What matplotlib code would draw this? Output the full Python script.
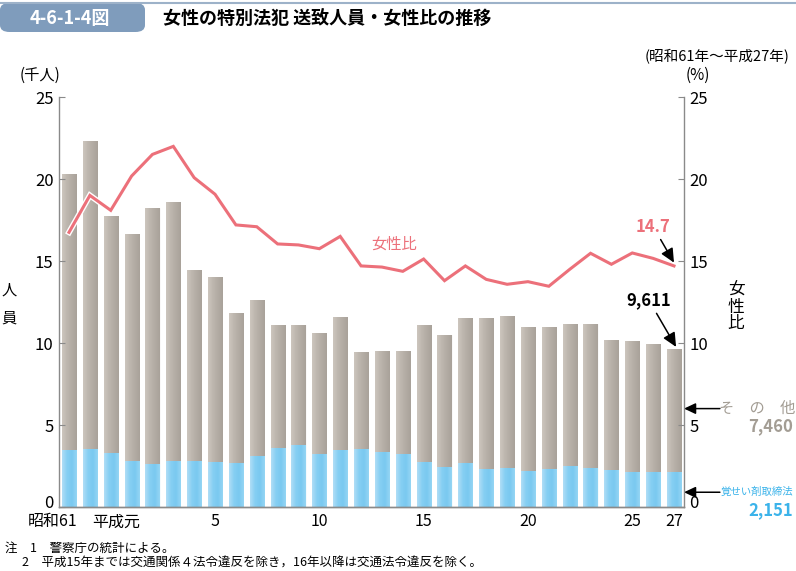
import numpy as np
import matplotlib.pyplot as plt
import matplotlib.transforms as mtransforms
from matplotlib.patches import FancyBboxPatch
from matplotlib.colors import LinearSegmentedColormap

plt.rcParams['font.family'] = ['Noto Sans CJK JP', 'DejaVu Sans']

# data (thousand persons / %)
years = list(range(30))  # 昭和61 .. 平成27
total = [20.3, 22.34, 17.74, 16.63, 18.21, 18.6, 14.45, 14.02, 11.81, 12.62,
         11.12, 11.12, 10.61, 11.59, 9.43, 9.53, 9.53, 11.10, 10.47, 11.52,
         11.50, 11.67, 11.0, 11.0, 11.18, 11.18, 10.20, 10.10, 9.94, 9.611]
stim = [3.50, 3.54, 3.31, 2.83, 2.62, 2.80, 2.83, 2.76, 2.70, 3.13,
        3.62, 3.80, 3.25, 3.50, 3.52, 3.37, 3.21, 2.74, 2.44, 2.68,
        2.32, 2.36, 2.22, 2.34, 2.50, 2.38, 2.24, 2.13, 2.11, 2.151]
ratio = [16.75, 19.0, 18.09, 20.18, 21.5, 21.99, 20.08, 19.07, 17.2, 17.09,
         16.04, 15.98, 15.75, 16.5, 14.7, 14.63, 14.37, 15.12, 13.8, 14.7,
         13.88, 13.58, 13.74, 13.46, 14.49, 15.47, 14.8, 15.49, 15.16, 14.7]
other = [t - s for t, s in zip(total, stim)]

tick_pos = [0, 3, 7, 12, 17, 22, 27, 29]
tick_lab = ['昭和61', '平成元', '5', '10', '15', '20', '25', '27']

c_gray = '#bdb6ae'
c_blue = '#84cef2'
c_line = '#ec707a'
c_axis = '#8a8a8a'

gray_cm = LinearSegmentedColormap.from_list('g', ['#cdc6be', '#bdb6ae', '#b3aca4', '#a9a29a'])
blue_cm = LinearSegmentedColormap.from_list('b', ['#b0def6', '#86cff3', '#7ac9f0', '#95d5f4'])
grad = np.linspace(0, 1, 64).reshape(1, -1)

fig = plt.figure(figsize=(7.96, 5.71), dpi=100)
ax = fig.add_axes([59/796, 1-507/571, (684-59)/796, (507-97)/571])

b1 = ax.bar(years, stim, width=0.68, color=c_blue, edgecolor='white', linewidth=0.6)
b2 = ax.bar(years, other, bottom=stim, width=0.68, color=c_gray, edgecolor='white', linewidth=0.6)
for bars, cm in ((b1, blue_cm), (b2, gray_cm)):
    for p in bars:
        x0, y0 = p.get_x(), p.get_y()
        im = ax.imshow(grad, cmap=cm, aspect='auto', zorder=p.get_zorder() + 0.1,
                       extent=(x0, x0 + p.get_width(), y0, y0 + p.get_height()))
        im.set_clip_path(p)
ax.set_aspect('auto')

ax2 = ax.twinx()
ax2.plot(years, ratio, color='white', lw=4.2, solid_joinstyle='miter', zorder=2)
ax2.plot(years, ratio, color=c_line, lw=2.2, solid_joinstyle='miter', zorder=3)

for a in (ax, ax2):
    a.set_ylim(0, 25)
    a.set_xlim(-0.48, 29.48)
    a.set_yticks([0, 5, 10, 15, 20, 25])
    a.tick_params(axis='y', direction='in', length=4, color=c_axis, labelsize=12, pad=4)
    a.spines['top'].set_visible(False)
    for s in ['left', 'right', 'bottom']:
        a.spines[s].set_color(c_axis)
        a.spines[s].set_linewidth(1.0)
ax.spines['right'].set_visible(False)
ax2.spines['left'].set_visible(False)
ax.set_xticks([])
ax2.set_xticks([])

# nudge the "0" labels up a little, as in the reference
up = mtransforms.ScaledTranslation(0, 4/72, fig.dpi_scale_trans)
for a in (ax, ax2):
    lbl = a.get_yticklabels()[0]
    lbl.set_transform(lbl.get_transform() + up)

# x labels (era labels aligned so the year number sits under its bar)
for pos, lab in zip(tick_pos, tick_lab):
    if len(lab) > 2:
        ax.text(pos + 0.4, -0.9, lab, ha='right', va='center', fontsize=11.5)
    else:
        ax.text(pos, -0.9, lab, ha='center', va='center', fontsize=11.5)

# axis titles
fig.text(40/796, 1-75/571, '(千人)', ha='center', va='center', fontsize=11)
fig.text(9/796, 1-290/571, '人', ha='center', va='center', fontsize=11)
fig.text(9/796, 1-318/571, '員', ha='center', va='center', fontsize=11)
fig.text(698/796, 1-75/571, '(%)', ha='center', va='center', fontsize=11)
fig.text(736/796, 1-307/571, '女\n性\n比', ha='center', va='center', fontsize=12, linespacing=0.95)

# annotations
arrow_kw = dict(arrowstyle='-|>,head_length=0.7,head_width=0.33', color='black', lw=1.1,
                shrinkA=1, shrinkB=0)
ax2.text(15.6, 16.0, '女性比', color=c_line, fontsize=11, ha='center', va='center')
ax2.annotate('14.7', xy=(29, ratio[-1] + 0.2), xytext=(28.0, 17.1), color=c_line,
             fontsize=12, fontweight='bold', ha='center', va='center', arrowprops=arrow_kw)
ax.annotate('9,611', xy=(29.1, total[-1] + 0.15), xytext=(27.8, 12.6), color='black',
            fontsize=12, fontweight='bold', ha='center', va='center', arrowprops=arrow_kw)

# right side labels with arrows
ax.annotate('', xy=(29.48, 6.0), xytext=(31.2, 6.0), annotation_clip=False,
            arrowprops=dict(arrow_kw, shrinkA=0))
ax.annotate('', xy=(29.48, 0.9), xytext=(31.2, 0.9), annotation_clip=False,
            arrowprops=dict(arrow_kw, shrinkA=0))
fig.text(757/796, 1-408/571, 'そ　の　他', ha='center', va='center', fontsize=11, color='#a39d94')
fig.text(793/796, 1-426/571, '7,460', ha='right', va='center', fontsize=12, color='#a39d94', fontweight='bold')
fig.text(793/796, 1-492/571, '覚せい剤取締法', ha='right', va='center', fontsize=7.5, color='#3bb3ea')
fig.text(793/796, 1-510/571, '2,151', ha='right', va='center', fontsize=12, color='#3bb3ea', fontweight='bold')

# header
fig.add_artist(plt.Line2D([0, 1], [1-3/571, 1-3/571], color='#9db2c9', lw=1.5))
box = FancyBboxPatch((0, 1-32/571), 145/796, 29/571, boxstyle='round,pad=0,rounding_size=0.012',
                     transform=fig.transFigure, facecolor='#7f9cbc', edgecolor='none')
fig.add_artist(box)
fig.text(70/796, 1-18/571, '4-6-1-4図', color='white', fontsize=13, fontweight='bold',
         ha='center', va='center')
fig.text(163/796, 1-18/571, '女性の特別法犯 送致人員・女性比の推移', color='black', fontsize=13,
         fontweight='bold', ha='left', va='center')
fig.text(790/796, 1-57/571, '(昭和61年～平成27年)', ha='right', va='center', fontsize=10.5)

# notes
fig.text(5/796, 1-548/571, '注　1　警察庁の統計による。', ha='left', va='center', fontsize=9)
fig.text(22/796, 1-563/571, '2　平成15年までは交通関係４法令違反を除き，16年以降は交通法令違反を除く。',
         ha='left', va='center', fontsize=9)

fig.savefig('out.png', dpi=100)
